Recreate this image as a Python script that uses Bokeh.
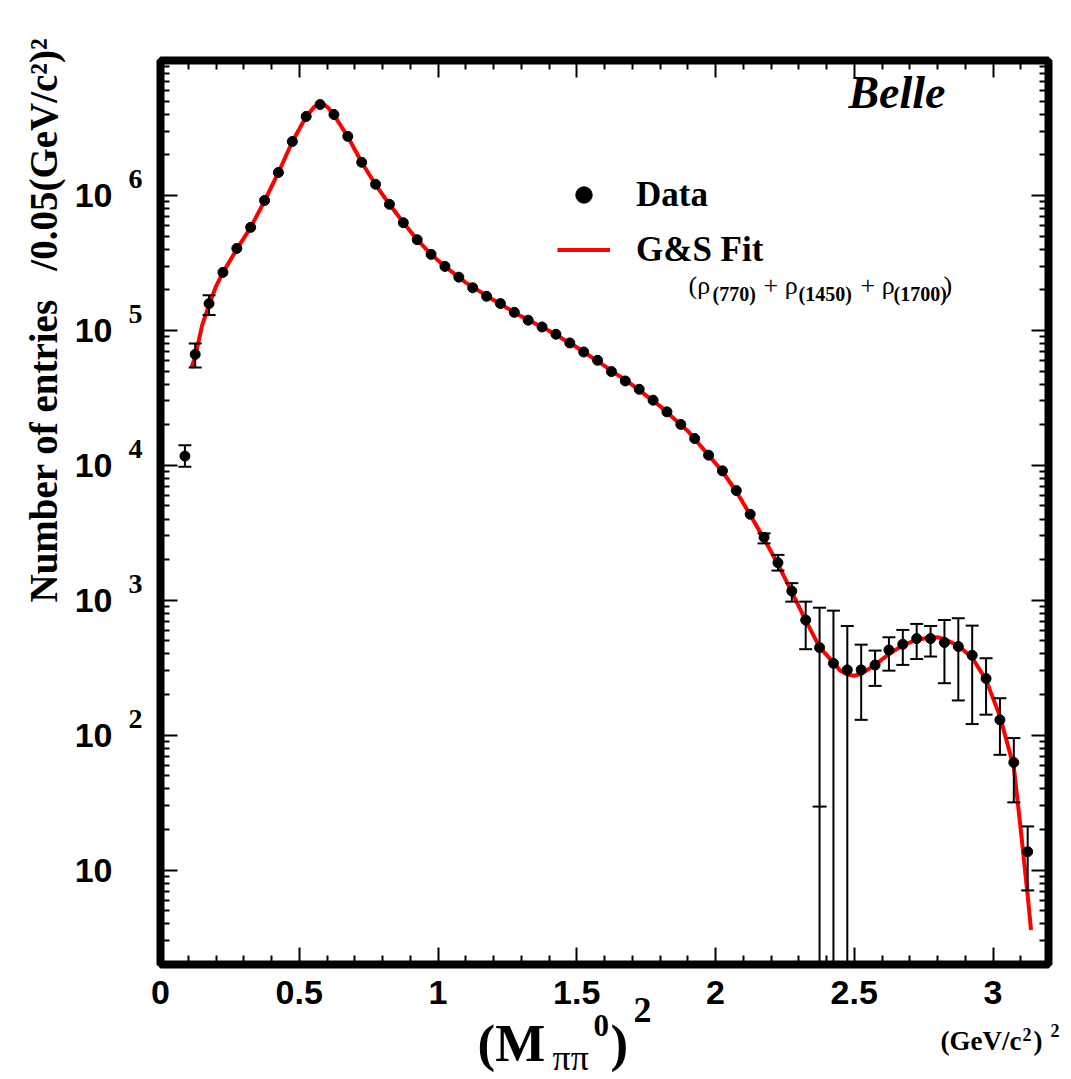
from math import pi, log10
from bokeh.plotting import figure
from bokeh.models import (ColumnDataSource, Whisker, TeeHead, Label, LabelSet, Legend,
                          LegendItem, LinearAxis, LogAxis, FixedTicker, Range1d, BoxAnnotation)
from bokeh.embed import file_html
from bokeh.resources import INLINE

# ---------------- data ----------------
mass2 = [0.088, 0.125, 0.175, 0.225, 0.275, 0.325, 0.375, 0.425, 0.475, 0.525,
         0.575, 0.625, 0.675, 0.725, 0.775, 0.825, 0.875, 0.925, 0.975, 1.025,
         1.075, 1.125, 1.175, 1.225, 1.275, 1.325, 1.375, 1.425, 1.475, 1.525,
         1.575, 1.625, 1.675, 1.725, 1.775, 1.825, 1.875, 1.925, 1.975, 2.025,
         2.075, 2.125, 2.175, 2.225, 2.275, 2.325, 2.375, 2.425, 2.475, 2.525,
         2.575, 2.625, 2.675, 2.725, 2.775, 2.825, 2.875, 2.925, 2.975, 3.025,
         3.075, 3.125]
entries = [11700, 66400, 158000, 269000, 405000, 580000, 918000, 1480000, 2510000, 3850000,
           4720000, 3980000, 2740000, 1760000, 1210000, 860000, 628000, 470000, 366000, 298000,
           248000, 207000, 179000, 158000, 136000, 119000, 106000, 93600, 80700, 69200,
           60000, 49500, 42200, 36600, 30400, 24900, 20100, 15800, 11900, 9100,
           6500, 4340, 2930, 1900, 1170, 714, 446, 341, 305, 305,
           331, 428, 472, 520, 520, 486, 454, 391, 263, 130,
           62.8, 13.7]

# visible error bars (upper / lower ends)
bar_mass2 = [0.088, 0.125, 0.175, 2.175, 2.225, 2.275, 2.325, 2.375, 2.425, 2.475,
             2.525, 2.575, 2.625, 2.675, 2.725, 2.775, 2.825, 2.875, 2.925, 2.975,
             3.025, 3.075, 3.125]
bar_upper = [14100, 80000, 182000, 3130, 2170, 1340, 977, 881, 838, 645,
             469, 424, 532, 603, 668, 645, 714, 736, 649, 372,
             188, 95.3, 21.1]
bar_lower = [9750, 53000, 130000, 2640, 1660, 977, 434, 2, 2, 2,
             130, 232, 301, 332, 367, 383, 243, 181, 121, 142,
             71.6, 31.8, 7.08]
extra_cap_mass2 = [2.375]
extra_cap_value = [29.6]

# G&S fit curve
fit_mass2 = [0.111, 0.125, 0.15, 0.175, 0.2, 0.225, 0.275, 0.325, 0.375, 0.425,
             0.475, 0.525, 0.555, 0.58, 0.605, 0.625, 0.675, 0.725, 0.775, 0.825,
             0.875, 0.925, 0.975, 1.025, 1.1, 1.2, 1.3, 1.4, 1.5, 1.6,
             1.7, 1.8, 1.9, 1.975, 2.025, 2.075, 2.125, 2.175, 2.225, 2.275,
             2.325, 2.375, 2.425, 2.45, 2.475, 2.5, 2.525, 2.575, 2.625, 2.675,
             2.725, 2.775, 2.8, 2.825, 2.875, 2.925, 2.975, 3.025, 3.075, 3.1,
             3.125, 3.137]
fit_entries = [52500, 64000, 109000, 155000, 212000, 268000, 400000, 580000, 910000, 1480000,
               2500000, 3850000, 4550000, 4850000, 4450000, 3950000, 2720000, 1760000, 1200000, 860000,
               630000, 470000, 366000, 298000, 226000, 168000, 127000, 99500, 75000, 54500,
               39500, 27500, 18000, 11900, 9000, 6400, 4300, 2850, 1850, 1150,
               710, 450, 345, 300, 282, 276, 285, 332, 400, 463,
               510, 530, 532, 515, 460, 375, 257, 138, 58, 20,
               6.5, 3.6]

x_major_ticks = [0, 0.5, 1, 1.5, 2, 2.5, 3]
x_tick_labels = ["0", "0.5", "1", "1.5", "2", "2.5", "3"]
x_minor_ticks = [round(0.1 * i, 1) for i in range(33) if i % 5]
y_major_ticks = [10, 100, 1000, 10000, 100000, 1000000]
y_tick_base = ["10", "10", "10", "10", "10", "10"]
y_tick_exponents = ["", "2", "3", "4", "5", "6"]
y_minor_ticks = [m * 10 ** k for k in range(0, 7) for m in range(2, 10)]

# axis box limits
X_MIN, X_MAX = 0.0, 3.2
Y_MIN, Y_MAX = 2.0, 1e7

# ---------------- layout geometry (pixels) ----------------
W, H = 1071, 1079
BOX_L, BOX_R, BOX_T, BOX_B = 160, 1048, 60, 964
px_per_x = (BOX_R - BOX_L) / (X_MAX - X_MIN)
px_per_dec = (BOX_B - BOX_T) / (log10(Y_MAX) - log10(Y_MIN))
x_lo = X_MIN - BOX_L / px_per_x
x_hi = X_MAX + (W - BOX_R) / px_per_x
y_lo = 10 ** (log10(Y_MIN) - (H - BOX_B) / px_per_dec)
y_hi = 10 ** (log10(Y_MAX) + BOX_T / px_per_dec)

SERIF = "Liberation Serif"
SANS = "Liberation Sans"

p = figure(width=W, height=H, output_backend="svg", toolbar_location=None,
           x_range=Range1d(x_lo, x_hi), y_range=Range1d(y_lo, y_hi), y_axis_type="log",
           x_axis_location=None, y_axis_location=None, min_border=0,
           background_fill_color="white", border_fill_color="white")
p.grid.visible = False
p.outline_line_color = None

# axes drawn on the box edges
xb = LinearAxis(fixed_location=Y_MIN)
xt = LinearAxis(fixed_location=Y_MAX)
yl = LogAxis(fixed_location=X_MIN)
yr = LogAxis(fixed_location=X_MAX)
p.add_layout(xb, "below")
p.add_layout(xt, "above")
p.add_layout(yl, "left")
p.add_layout(yr, "right")
for ax in (xb, xt):
    ax.ticker = FixedTicker(ticks=x_major_ticks, minor_ticks=x_minor_ticks)
for ax in (yl, yr):
    ax.ticker = FixedTicker(ticks=y_major_ticks, minor_ticks=y_minor_ticks)
xb.major_label_overrides = dict(zip(x_major_ticks, x_tick_labels))
yl.major_label_overrides = dict(zip(y_major_ticks, y_tick_base))

for ax in (xb, yl, xt, yr):
    ax.axis_line_color = None
    ax.major_tick_in = 17
    ax.major_tick_out = 0
    ax.minor_tick_in = 9
    ax.minor_tick_out = 0
    ax.major_tick_line_width = 2
    ax.minor_tick_line_width = 2
    ax.major_tick_line_color = "black"
    ax.minor_tick_line_color = "black"
for ax in (xt, yr):
    ax.major_label_text_color = None
for ax in (xb, yl):
    ax.major_label_text_font = SANS
    ax.major_label_text_font_style = "bold"
    ax.major_label_text_font_size = "34px"
    ax.major_label_text_color = "black"
xb.major_label_standoff = 16
yl.major_label_standoff = 48

# box outline
p.add_layout(BoxAnnotation(left=X_MIN, right=X_MAX, bottom=Y_MIN, top=Y_MAX,
                           fill_alpha=0, line_color="black", line_alpha=1.0,
                           line_width=8, level="overlay"))

# fit curve
fit_line = p.line(fit_mass2, fit_entries, line_color="#ff0000", line_width=4)

# error bars
bars = ColumnDataSource(dict(x=bar_mass2, upper=bar_upper, lower=bar_lower))
p.add_layout(Whisker(source=bars, base="x", upper="upper", lower="lower",
                     line_color="black", line_width=2, level="glyph",
                     upper_head=TeeHead(size=13, line_width=2, line_color="black"),
                     lower_head=TeeHead(size=13, line_width=2, line_color="black")))
p.scatter(extra_cap_mass2, extra_cap_value, marker="dash", size=14, line_width=2,
          line_color="black")

# data points
dots = p.scatter(mass2, entries, size=10, color="black")

# y tick exponents
exp_src = ColumnDataSource(dict(y=y_major_ticks[1:], x=[X_MIN] * 5, t=y_tick_exponents[1:]))
p.add_layout(LabelSet(source=exp_src, x="x", y="y", text="t", x_offset=-32, y_offset=7,
                      text_font=SANS, text_font_style="bold", text_font_size="28px",
                      text_align="left", text_baseline="alphabetic", text_color="black"))

# legend
legend = Legend(items=[LegendItem(label="Data", renderers=[dots]),
                       LegendItem(label="G&S Fit", renderers=[fit_line])],
                location=(557, 809), orientation="vertical",
                glyph_width=53, glyph_height=41, label_height=41, spacing=14,
                label_standoff=26, padding=0, margin=0,
                border_line_alpha=0, background_fill_alpha=0,
                label_text_font=SERIF, label_text_font_style="bold",
                label_text_color="black",
                label_text_font_size="35px", label_text_baseline="middle")
p.add_layout(legend)

BASE_SHIFT = 0.36  # em offset of bokeh's alphabetic anchor

def put(text, x, y, size, style="bold", font=SERIF, angle=0, align="left"):
    if angle:
        x = x - BASE_SHIFT * size
    else:
        y = y - BASE_SHIFT * size
    p.add_layout(Label(x=x, y=y, x_units="canvas", y_units="canvas", text=text,
                       text_font=font, text_font_style=style, text_font_size=f"{size}px",
                       text_align=align, text_baseline="alphabetic", angle=angle,
                       text_color="black"))

put("Belle", 945, 109, 46, style="bold italic", align="right")

# legend sub-text
put("(\u03c1", 688, 294, 26, style="normal")
put("(770)", 712, 301, 20)
put("+ \u03c1", 763, 294, 26, style="normal")
put("(1450)", 798, 301, 20)
put("+ \u03c1", 860, 294, 26, style="normal")
put("(1700)", 893, 301, 20)
put(")", 943, 294, 26, style="normal")

# y title
put("Number of entries\u00a0\u00a0\u00a0/0.05(GeV/c\u00b2)\u00b2", 57, 602, 39, angle=pi / 2)

# x title
put("(M", 477, 1062, 53)
put("\u03c0\u03c0", 552, 1070, 36, style="normal")
put("0", 593, 1036, 31)
put(")", 610, 1062, 53)
put("2", 633, 1022, 36)

# x units
put("(GeV/c", 940, 1050, 27)
put("2", 1022, 1040, 18)
put(")", 1033, 1050, 27)
put("2", 1050, 1036, 18)

open("out.html", "w").write(file_html(p, INLINE))
